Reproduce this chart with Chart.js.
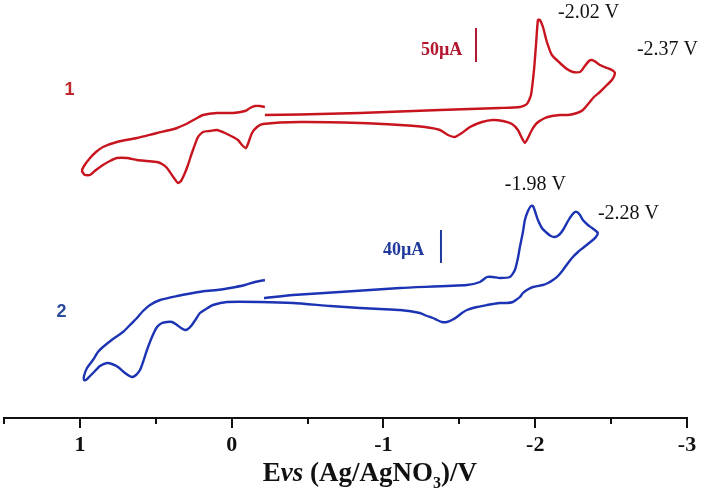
<!DOCTYPE html>
<html><head><meta charset="utf-8">
<script src="https://cdn.jsdelivr.net/npm/chart.js@4.4.1/dist/chart.umd.min.js"></script>
<style>html,body{margin:0;padding:0;background:#fff}#wrap{width:708px;height:497px}</style>
</head><body><div id="wrap"><canvas id="c" width="708" height="497"></canvas></div>
<script>
// Potential (V vs Ag/AgNO3) and offset current (arbitrary units) for compound 1
const potential1 = [-0.219,-0.450,-0.845,-1.372,-1.767,-1.899,-1.945,-1.972,-1.992,-2.005,-2.018,-2.031,-2.051,-2.077,-2.110,-2.163,-2.209,-2.248,-2.295,-2.327,-2.354,-2.374,-2.400,-2.426,-2.473,-2.505,-2.525,-2.505,-2.466,-2.426,-2.387,-2.360,-2.314,-2.275,-2.216,-2.163,-2.110,-2.064,-2.011,-1.978,-1.952,-1.932,-1.912,-1.886,-1.847,-1.787,-1.721,-1.649,-1.570,-1.517,-1.471,-1.425,-1.372,-1.273,-1.109,-0.845,-0.450,-0.206,-0.167,-0.134,-0.107,-0.094,-0.068,-0.042,-0.009,0.044,0.097,0.143,0.189,0.222,0.262,0.288,0.308,0.334,0.354,0.380,0.426,0.459,0.492,0.558,0.624,0.690,0.756,0.802,0.848,0.894,0.933,0.966,0.986,0.973,0.933,0.894,0.848,0.756,0.624,0.492,0.406,0.360,0.314,0.275,0.228,0.189,0.097,-0.009,-0.088,-0.121,-0.153,-0.186,-0.219];
const current1 = [303,303.5,305,308,310,311,314,323,348,373,398,398,391,376,363,355,349,346,346,352,357,358,356,353,350,348,345,338,332,326,321,316,308,305,303,303,302,300,295,288,280,275,280,288,294,297,298,296,291,285,281,283,288,291,293,295,296,294,291,285,274,270,273,278,281,285,288,287,286,281,265,253,245,237,235,240,250,254,256,257,258,260,260,257,253,248,243,243,247,252,260,266,271,276,280,285,288,290,293,296,300,303,305,305,307,310,312,312,311];
// Compound 2
const potential2 = [-0.213,-0.404,-0.713,-1.109,-1.550,-1.636,-1.682,-1.721,-1.767,-1.833,-1.866,-1.886,-1.899,-1.919,-1.932,-1.952,-1.972,-1.985,-1.998,-2.018,-2.044,-2.077,-2.103,-2.130,-2.156,-2.183,-2.216,-2.242,-2.262,-2.275,-2.295,-2.314,-2.347,-2.374,-2.400,-2.413,-2.400,-2.380,-2.347,-2.314,-2.282,-2.248,-2.216,-2.183,-2.150,-2.117,-2.084,-2.051,-1.985,-1.945,-1.919,-1.899,-1.873,-1.853,-1.814,-1.767,-1.721,-1.682,-1.616,-1.550,-1.517,-1.484,-1.451,-1.418,-1.385,-1.353,-1.326,-1.287,-1.240,-1.109,-0.977,-0.845,-0.648,-0.404,-0.186,0.031,0.123,0.169,0.209,0.235,0.262,0.288,0.308,0.334,0.360,0.393,0.426,0.459,0.492,0.525,0.558,0.584,0.604,0.630,0.657,0.703,0.749,0.789,0.821,0.868,0.907,0.933,0.960,0.973,0.973,0.953,0.914,0.881,0.848,0.782,0.716,0.670,0.624,0.584,0.538,0.472,0.360,0.255,0.176,0.097,0.011,-0.088,-0.153,-0.219];
const current2 = [120,123,126,130,133,136,141,141,140,141,148,160,171,186,198,207,212,212,207,198,190,185,182,181,183,188,197,203,206,206,203,198,193,190,187,185,181,178,174,170,166,161,155,148,142,138,135,133,131,128,125,121,118,116,115,115,114,113,111,108,105,101,98,96,96,98,100,102,105,108,109,110,112,115,116,116,113,109,105,99,93,89,88,90,93,96,96,95,91,81,68,56,48,43,41,45,51,54,55,52,46,42,38,38,42,50,58,66,71,79,86,93,100,107,113,118,122,125,127,128,130,133,136,138];
const seriesNames = ['1', '2'];
const xTickValues = [1, 0, -1, -2, -3];
const peakLabels1 = ['-2.02 V', '-2.37 V'];
const peakLabels2 = ['-1.98 V', '-2.28 V'];
const scaleBarLabels = ['50\u00b5A', '40\u00b5A'];

const RED = '#c8141e', BLUE = '#1c34b4';

function pts(xs, ys){ return xs.map((x,i)=>({x:x, y:ys[i]})); }

const overlay = {
  id: 'overlay',
  afterDraw(chart){
    const ctx = chart.ctx, xs = chart.scales.x, ys = chart.scales.y;
    const X = v => xs.getPixelForValue(v), Y = v => ys.getPixelForValue(v);
    ctx.save();
    // axis line and ticks
    const yb = chart.chartArea.bottom;
    ctx.strokeStyle = '#111'; ctx.lineWidth = 2;
    ctx.beginPath(); ctx.moveTo(chart.chartArea.left, yb); ctx.lineTo(chart.chartArea.right, yb); ctx.stroke();
    xs.ticks.forEach(t => {
      const px = Math.round(X(t.value));
      const len = Number.isInteger(t.value) ? 10 : 6;
      ctx.beginPath(); ctx.moveTo(px, yb - 1); ctx.lineTo(px, yb + len); ctx.stroke();
    });
    // axis title with italic "vs" and subscript
    const fs = 27, fam = '"Liberation Serif","Times New Roman",serif';
    const parts = [
      {t:'E', f:`bold ${fs}px ${fam}`, dy:0},
      {t:'vs', f:`italic bold ${fs}px ${fam}`, dy:0},
      {t:' (Ag/AgNO', f:`bold ${fs}px ${fam}`, dy:0},
      {t:'3', f:`bold ${Math.round(fs*0.6)}px ${fam}`, dy:7},
      {t:')/V', f:`bold ${fs}px ${fam}`, dy:0}
    ];
    let w = 0; parts.forEach(p => { ctx.font = p.f; p.w = ctx.measureText(p.t).width; w += p.w; });
    let cx = X(-0.91) - w/2; const base = 481;
    ctx.fillStyle = '#111'; ctx.textBaseline = 'alphabetic'; ctx.textAlign = 'left';
    parts.forEach(p => { ctx.font = p.f; ctx.fillText(p.t, cx, base + p.dy); cx += p.w; });
    // peak annotations
    ctx.font = `20px ${fam}`; ctx.textBaseline = 'middle'; ctx.fillStyle = '#111';
    ctx.fillText(peakLabels1[0], X(-2.150), Y(405.5));
    ctx.fillText(peakLabels1[1], X(-2.670), Y(368));
    ctx.fillText(peakLabels2[0], X(-1.800), Y(233));
    ctx.fillText(peakLabels2[1], X(-2.413), Y(204));
    // scale bars
    ctx.font = `bold 18px ${fam}`;
    ctx.fillStyle = '#b3142e'; ctx.fillText(scaleBarLabels[0], X(-1.247), Y(368));
    ctx.fillStyle = '#1f3a9c'; ctx.fillText(scaleBarLabels[1], X(-0.997), Y(168));
    ctx.lineWidth = 2;
    ctx.strokeStyle = '#b3142e'; ctx.beginPath(); ctx.moveTo(X(-1.610), Y(390)); ctx.lineTo(X(-1.610), Y(356)); ctx.stroke();
    ctx.strokeStyle = '#1f3a9c'; ctx.beginPath(); ctx.moveTo(X(-1.379), Y(188)); ctx.lineTo(X(-1.379), Y(155)); ctx.stroke();
    // compound numbers
    ctx.font = 'bold 18px "Liberation Sans", Arial, sans-serif'; ctx.textAlign = 'center';
    ctx.fillStyle = '#c0282d'; ctx.fillText(seriesNames[0], X(1.0676), Y(328));
    ctx.fillStyle = '#2a4a9c'; ctx.fillText(seriesNames[1], X(1.1206), Y(106));
    ctx.restore();
  }
};

new Chart(document.getElementById('c'), {
  type: 'scatter',
  data: { datasets: [
    { label: seriesNames[0], data: pts(potential1, current1), showLine: true, borderColor: RED, borderWidth: 2.4, pointRadius: 0, tension: 0.2, fill: false },
    { label: seriesNames[1], data: pts(potential2, current2), showLine: true, borderColor: BLUE, borderWidth: 2.4, pointRadius: 0, tension: 0.2, fill: false }
  ]},
  options: {
    responsive: false, animation: false, devicePixelRatio: 1,
    layout: { padding: { left: 4, right: 21, top: 0, bottom: 0 } },
    plugins: { legend: { display: false }, tooltip: { enabled: false } },
    scales: {
      x: {
        type: 'linear', reverse: true, min: -3, max: 1.5, position: 'bottom',
        grid: { display: false, drawTicks: false }, border: { display: false },
        ticks: { stepSize: 0.5, padding: 14, color: '#111', maxRotation: 0, autoSkip: false,
          font: { family: '"Liberation Serif","Times New Roman",serif', weight: 'bold', size: 22 },
          callback: v => xTickValues.includes(v) ? String(v) : '' },
        afterFit: s => { s.height = 79; s.paddingLeft = 0; s.paddingRight = 0; }
      },
      y: { type: 'linear', display: false, min: 0, max: 418 }
    }
  },
  plugins: [overlay]
});
</script></body></html>
